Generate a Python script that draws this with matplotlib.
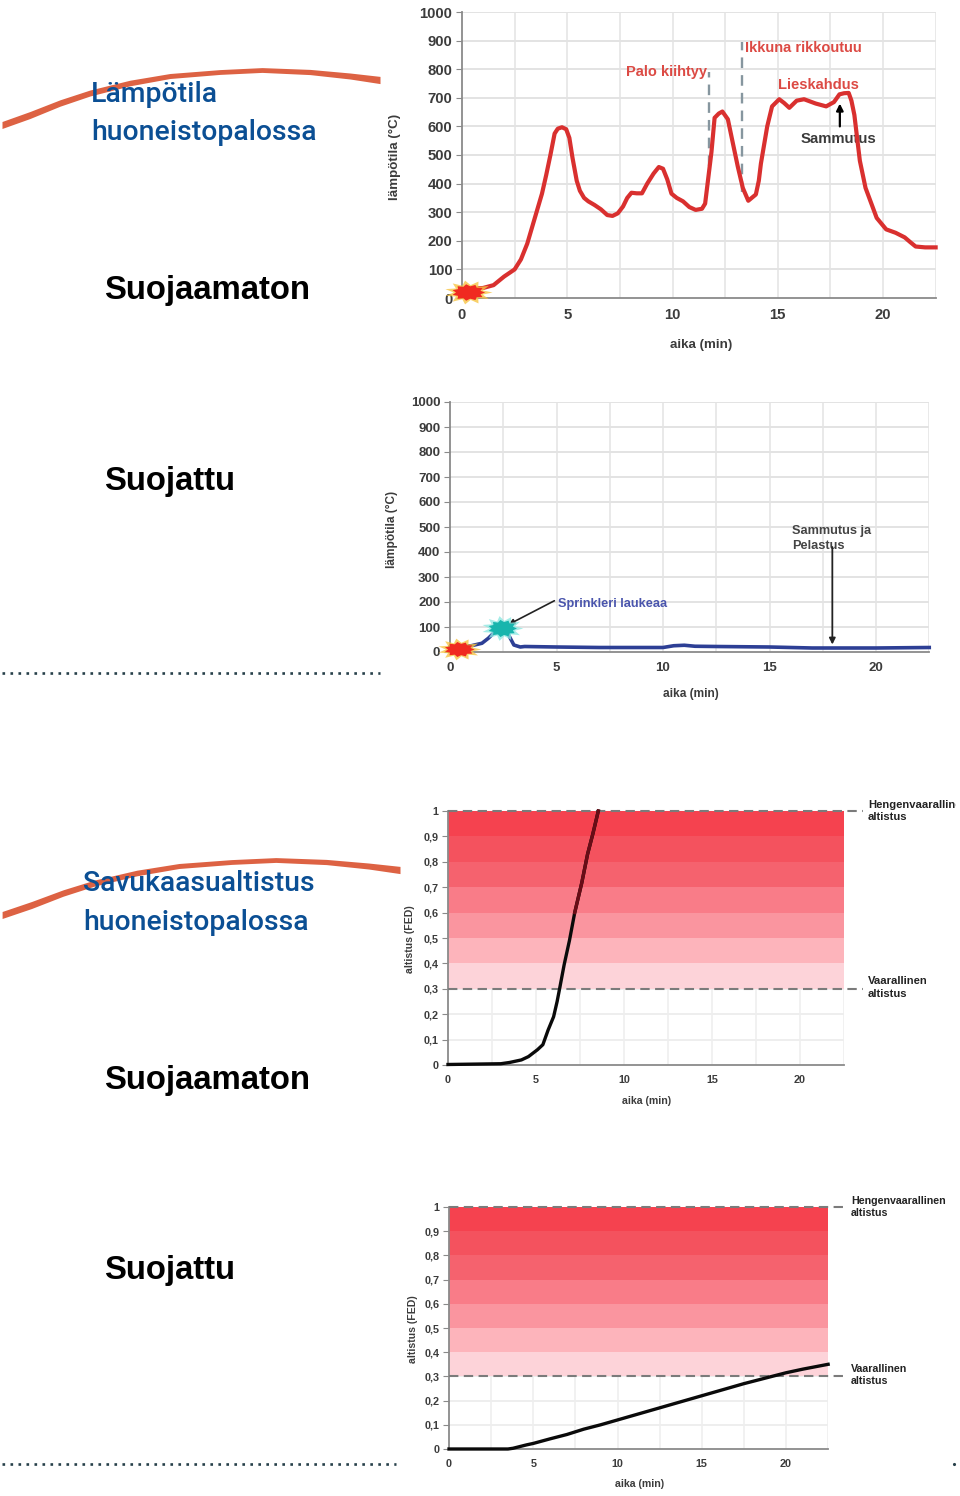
import matplotlib
matplotlib.use('Agg')
import matplotlib.pyplot as plt
from matplotlib.path import Path
import numpy as np

plt.rcParams['font.family'] = ['Liberation Sans', 'DejaVu Sans']

W, H = 960, 1496

# temperature, unprotected
t_unprot = [0, 1, 1.5, 2, 2.5, 2.8, 3.1, 3.5, 3.8, 4, 4.2, 4.4, 4.55, 4.75, 4.95, 5.1, 5.25, 5.45, 5.6, 5.8, 6,
            6.3, 6.6, 6.9, 7.15, 7.4, 7.65, 7.85, 8.05, 8.3, 8.55, 8.8, 9.1, 9.35, 9.55, 9.75, 9.95, 10.2, 10.5,
            10.8, 11.1, 11.4, 11.55, 11.7, 11.85, 12.0, 12.2, 12.37, 12.63, 12.9, 13.1, 13.34, 13.6, 13.96, 14.1,
            14.2, 14.5, 14.73, 15.07, 15.3, 15.55, 15.9, 16.25, 16.8, 17.3, 17.67, 17.93, 18.15, 18.37, 18.5, 18.64,
            18.9, 19.17, 19.7, 20.15, 20.6, 21.03, 21.3, 21.55, 22, 22.5]
temp_unprot = [30, 35, 45, 75, 100, 135, 190, 290, 365, 430, 500, 575, 592, 597, 590, 560, 490, 410, 375, 350, 338,
               325, 310, 290, 287, 296, 320, 350, 368, 366, 366, 400, 435, 458, 452, 415, 365, 350, 338,
               318, 308, 312, 330, 420, 510, 630, 645, 652, 625, 530, 460, 385, 340, 362, 410,
               470, 600, 670, 695, 682, 665, 690, 695, 680, 670, 685, 712, 716, 717, 690, 640,
               480, 385, 280, 240, 228, 212, 195, 180, 177, 177]

# temperature, sprinkler
t_prot = [0, 1, 1.5, 1.8, 2.1, 2.4, 2.6, 2.8, 3, 3.3, 3.5, 5, 7, 9, 10, 10.5, 11, 11.5, 12.5, 15, 17, 20, 22.5]
temp_prot = [20, 25, 35, 55, 80, 100, 95, 60, 28, 20, 22, 20, 18, 18, 18, 25, 27, 23, 22, 20, 16, 16, 18]

# exposure
t_fed1 = [0, 3, 3.5, 4.17, 4.57, 5.08, 5.39, 5.69, 6, 6.2, 6.34, 6.6, 6.9, 7.2, 7.6, 7.93, 8.23, 8.54]
fed1 = [0.002, 0.005, 0.01, 0.02, 0.033, 0.06, 0.08, 0.138, 0.19, 0.25, 0.3, 0.395, 0.49, 0.6, 0.717, 0.83, 0.91, 1.0]
t_fed2 = [0, 3.5, 3.8, 4.2, 4.6, 5, 6, 7, 8, 9, 10, 12.5, 15, 17.5, 20, 21, 22.5]
fed2 = [0, 0, 0.003, 0.01, 0.017, 0.023, 0.042, 0.06, 0.082, 0.1, 0.12, 0.17, 0.22, 0.27, 0.315, 0.33, 0.35]

temp_ticks = list(range(0, 1001, 100))
fed_ticks = [i / 10 for i in range(11)]
fed_labels = ['0', '0,1', '0,2', '0,3', '0,4', '0,5', '0,6', '0,7', '0,8', '0,9', '1']
band_edges = [0.3, 0.4, 0.5, 0.6, 0.7, 0.8, 0.9, 1.0]
band_colors = ['#fdd3d9', '#fdb4bb', '#fa959f', '#f97c88', '#f5626e', '#f4525e', '#f5424f']
x_ticks = [0, 5, 10, 15, 20]
x_grid = [2.5, 5, 7.5, 10, 12.5, 15, 17.5, 20, 22.5]

fig = plt.figure(figsize=(W / 100, H / 100), dpi=100)
fig.patch.set_facecolor('white')


def px_axes(x0, x20, ytop, ybot, ymax, yticks, ylabels, ylabel, fs, lab_x, lab_y, lab_fs, grid_col):
    x1 = x0 + (x20 - x0) * 22.5 / 20
    ax = fig.add_axes([x0 / W, 1 - ybot / H, (x1 - x0) / W, (ybot - ytop) / H])
    ax.set_xlim(0, 22.5)
    ax.set_ylim(0, ymax)
    for s in ['top', 'right']:
        ax.spines[s].set_visible(False)
    for s in ['left', 'bottom']:
        ax.spines[s].set_color('#8a8a8a')
        ax.spines[s].set_linewidth(1.3)
    ax.set_xticks(x_ticks)
    ax.set_yticks(yticks)
    ax.set_yticklabels(ylabels)
    ax.tick_params(axis='y', length=4, color='#8a8a8a', labelsize=fs, labelcolor='#3c3c3c', pad=3)
    ax.tick_params(axis='x', length=0, labelsize=fs, labelcolor='#3c3c3c', pad=7)
    for lab in ax.get_xticklabels() + ax.get_yticklabels():
        lab.set_fontweight('bold')
    for v in x_grid:
        ax.axvline(v, color=grid_col, lw=1.1, zorder=0)
    for v in yticks[1:]:
        ax.axhline(v, color=grid_col, lw=1.4, zorder=0)
    ax.set_xlabel('aika (min)', fontsize=lab_fs, fontweight='bold', color='#3c3c3c', va='center')
    ax.set_ylabel(ylabel, fontsize=lab_fs, fontweight='bold', color='#3c3c3c', va='center')
    ax.xaxis.set_label_coords((lab_x[0] - x0) / (x1 - x0), (ybot - lab_x[1]) / (ybot - ytop))
    ax.yaxis.set_label_coords((lab_y[0] - x0) / (x1 - x0), (ybot - lab_y[1]) / (ybot - ytop))
    ax.patch.set_alpha(0)
    return ax


def star(aspect, r_in, n=11):
    a = np.linspace(0, 2 * np.pi, 2 * n, endpoint=False)
    r = np.where(np.arange(2 * n) % 2 == 0, 1.0, r_in)
    v = np.column_stack([r * np.cos(a), aspect * r * np.sin(a)])
    v = np.vstack([v, v[0]])
    return Path(v, closed=True)


def burst(ax, x, y, outer, inner, s, aspect=0.5):
    ax.scatter([x], [y], marker=star(aspect, 0.62), s=s, color=outer, alpha=0.8, zorder=6, clip_on=False, linewidths=0)
    ax.scatter([x], [y], marker=star(aspect, 0.75), s=s * 0.48, color=inner, zorder=7, clip_on=False, linewidths=0)


# top chart
ax1 = px_axes(462, 883, 12, 298, 1000, temp_ticks, [str(v) for v in temp_ticks], 'lämpötila (°C)', 10.7,
              (701, 345), (395, 157), 9.6, '#e3e3e3')
ax1.plot(t_unprot, temp_unprot, color='#d9302f', lw=3, solid_joinstyle='round', zorder=4, clip_on=False)
ax1.plot([11.73, 11.73], [460, 790], color='#86969f', lw=1.7, ls=(0, (4.5, 3)), zorder=3)
ax1.plot([13.3, 13.3], [370, 895], color='#86969f', lw=1.7, ls=(0, (4.5, 3)), zorder=3)
burst(ax1, 0.28, 20, '#f7c545', '#f02a20', 1200)
red = '#dc4a44'
ax1.text(11.65, 790, 'Palo kiihtyy', color=red, fontsize=10.5, fontweight='bold', ha='right', va='center')
ax1.text(13.45, 875, 'Ikkuna rikkoutuu', color=red, fontsize=10.5, fontweight='bold', ha='left', va='center')
ax1.text(15.0, 745, 'Lieskahdus', color=red, fontsize=10.6, fontweight='bold', ha='left', va='center')
ax1.text(16.1, 555, 'Sammutus', color='#3a3a3a', fontsize=10.7, fontweight='bold', ha='left', va='center')
ax1.annotate('', xy=(17.95, 680), xytext=(17.95, 600),
             arrowprops=dict(arrowstyle='-|>', color='black', lw=1.6, mutation_scale=10, shrinkA=0, shrinkB=0))

# second chart
ax2 = px_axes(450, 876, 402, 652, 1000, temp_ticks, [str(v) for v in temp_ticks], 'lämpötila (°C)', 9.5,
              (691, 694), (392, 529), 8.6, '#e3e3e3')
ax2.plot(t_prot, temp_prot, color='#2d3f95', lw=2.6, solid_joinstyle='round', zorder=4, clip_on=False)
burst(ax2, 0.4, 14, '#f7c545', '#f02a20', 1000)
burst(ax2, 2.45, 95, '#8fe8e2', '#18b5ad', 900, aspect=0.6)
ax2.text(5.05, 190, 'Sprinkleri laukeaa', color='#4a55ad', fontsize=9.2, fontweight='bold', ha='left', va='center')
ax2.text(16.07, 484, 'Sammutus ja', color='#444444', fontsize=9.2, fontweight='bold', ha='left', va='center')
ax2.text(16.07, 425, 'Pelastus', color='#444444', fontsize=9.2, fontweight='bold', ha='left', va='center')
ax2.annotate('', xy=(2.75, 110), xytext=(4.9, 205),
             arrowprops=dict(arrowstyle='-|>', color='#222222', lw=1.2, mutation_scale=8, shrinkA=0, shrinkB=0))
ax2.annotate('', xy=(17.95, 30), xytext=(17.95, 420),
             arrowprops=dict(arrowstyle='-|>', color='#222222', lw=1.3, mutation_scale=9, shrinkA=0, shrinkB=0))


def fed_chart(x0, x20, ytop, ybot, t, fed, lab_x, lab_y, top_txt, low_txt, txt_x, txt_fs):
    ax = px_axes(x0, x20, ytop, ybot, 1, fed_ticks, fed_labels, 'altistus (FED)', 7.8, lab_x, lab_y, 7.6, '#eeeeee')
    for i in range(len(band_colors)):
        ax.axhspan(band_edges[i], band_edges[i + 1], color=band_colors[i], lw=0, zorder=1)
    for v in [0.3, 1.0]:
        ax.plot([0, 23.6], [v, v], color='#7b7b7b', lw=1.5, ls=(0, (4.5, 2.6)), zorder=3, clip_on=False)
    ax.plot(t, fed, color='#0a0a0a', lw=2.4, zorder=5, clip_on=False, solid_joinstyle='round')
    ax.text(txt_x, 1.0, top_txt, fontsize=txt_fs, fontweight='bold', color='#222222', va='center', ha='left',
            linespacing=1.3, clip_on=False)
    ax.text(txt_x, 0.305, low_txt, fontsize=txt_fs, fontweight='bold', color='#222222', va='center', ha='left',
            linespacing=1.3, clip_on=False)
    return ax


ax3 = fed_chart(448, 800, 811, 1065, t_fed1, fed1, (647, 1101), (410, 939),
                'Hengenvaarallinen\naltistus', 'Vaarallinen\naltistus', 23.85, 8.1)
# upper part of the curve looks dark red on the bands
up = [i for i, v in enumerate(fed1) if v >= 0.6]
ax3.plot([t_fed1[i] for i in up], [fed1[i] for i in up], color='#6a0c16', lw=2.4, zorder=6, clip_on=False)

ax4 = fed_chart(449, 786, 1207, 1449, t_fed2, fed2, (640, 1484), (413, 1329),
                'Hengenvaarallinen\naltistus', 'Vaarallinen\naltistus', 23.85, 7.7)

# page layer in pixel coordinates
pg = fig.add_axes([0, 0, 1, 1], zorder=20)
pg.set_xlim(0, W)
pg.set_ylim(H, 0)
pg.axis('off')
pg.patch.set_alpha(0)

swoosh_x = [2, 30, 60, 90, 130, 170, 220, 262, 310, 350, 380]
swoosh_y = [125, 115, 103, 93, 83, 76, 72, 70, 72, 76, 80]
swoosh_w = [3.5, 3.5, 3.2, 3, 2.8, 2.5, 2.4, 2.4, 2.6, 3, 3.6]
sx = np.array(swoosh_x, float)
sy = np.array(swoosh_y, float)
sw = np.array(swoosh_w, float)
pg.fill_between(sx, sy - sw, sy + sw, color='#dd6243', lw=0)
pg.fill_between(sx * 400 / 380, sy - sw + 790, sy + sw + 790, color='#dd6243', lw=0)

title_font = ['Roboto', 'Liberation Sans']
blue = '#0b4f94'
for x, y, txt in [(91, 94, 'Lämpötila'), (91, 132, 'huoneistopalossa'),
                  (83, 883, 'Savukaasualtistus'), (83, 922, 'huoneistopalossa')]:
    pg.text(x, y, txt, color=blue, fontsize=20.4, family=title_font, fontweight='medium', va='center')

for y, txt in [(290, 'Suojaamaton'), (481, 'Suojattu'), (1080, 'Suojaamaton'), (1271, 'Suojattu')]:
    pg.text(104.5, y, txt, color='black', fontsize=23.7, va='center', fontweight='bold')

pg.plot([2, 380], [673, 673], color='#27404a', lw=1.9, ls=(0, (1, 2.03)))
pg.plot([2, 396], [1464, 1464], color='#27404a', lw=1.9, ls=(0, (1, 2.03)))
pg.plot([954], [1464], marker='.', ms=2.5, color='#27404a')

# label runs off the page edge in the source
pg.fill_between([956, 960], [790, 790], [840, 840], color='white', lw=0)

fig.savefig('out.png', dpi=100, facecolor='white')
